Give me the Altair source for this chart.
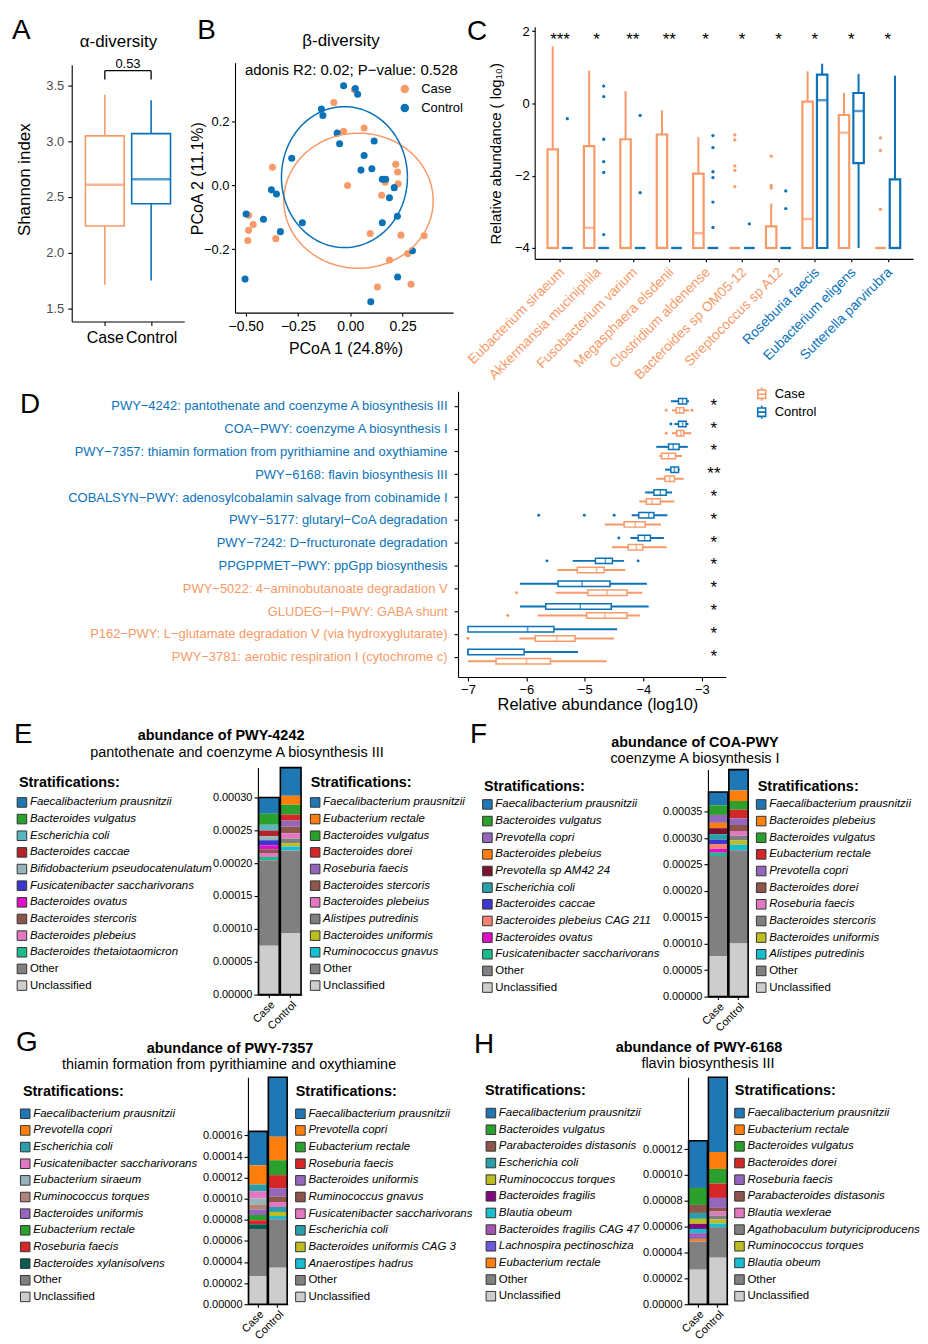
import json
import numpy as np
import pandas as pd
import altair as alt

FONT = "Liberation Sans"
ORANGE = "#F89A68"
BLUE = "#0B72B8"
GROUPS = ["Case", "Control"]
MINUS = "\u2212"

# ---------------- Panel A : alpha diversity ----------------
a_lower = [1.71, 1.75]
a_q1 = [2.24, 2.44]
a_median = [2.61, 2.66]
a_q3 = [3.05, 3.07]
a_upper = [3.42, 3.37]
a_pvalue = "0.53"

# ---------------- Panel B : beta diversity ----------------
b_case_x = [-0.079, 0.02, -0.032, 0.066, -0.372, -0.013, 0.217, 0.226, 0.229, 0.166, 0.15, -0.486,
            -0.464, -0.486, -0.49, -0.356, 0.095, 0.242, 0.353, 0.274, 0.187, 0.13, 0.29]
b_case_y = [0.26, 0.30, 0.17, 0.18, 0.057, 0.0, 0.066, 0.042, 0.005, 0.01, -0.031, -0.094,
            -0.123, -0.141, -0.173, -0.167, -0.151, -0.156, -0.158, -0.214, -0.234, -0.319, -0.31]
b_ctrl_x = [-0.032, 0.024, 0.035, -0.138, -0.131, -0.063, -0.051, 0.114, 0.066, -0.28, 0.051, 0.103,
            0.153, 0.169, 0.21, 0.187, -0.377, -0.353, -0.498, -0.415, -0.229, -0.334, 0.153, 0.225,
            0.297, -0.503, 0.226, 0.098]
b_ctrl_y = [0.3125, 0.304, 0.286, 0.24, 0.219, 0.164, 0.131, 0.139, 0.094, 0.085, 0.048, 0.052,
            0.019, 0.019, -0.007, -0.039, -0.014, -0.027, -0.09, -0.106, -0.117, -0.145, -0.117, -0.097,
            -0.205, -0.294, -0.2875, -0.365]
b_ellipse_case = [0.039, -0.048, 0.357, 0.212]   # centre x, centre y, radius x, radius y
b_ellipse_ctrl = [-0.028, 0.026, 0.301, 0.221]
b_note = "adonis R2: 0.02; P" + MINUS + "value: 0.528"

# ---------------- Panel C : species ----------------
c_taxa = ["Eubacterium siraeum", "Akkermansia muciniphila", "Fusobacterium varium", "Megasphaera elsdenii",
          "Clostridium aldenense", "Bacteroides sp OM05-12", "Streptococcus sp A12", "Roseburia faecis",
          "Eubacterium eligens", "Sutterella parvirubra"]
c_case_lo = [-4, -4, -4, -4, -4, -4, -4, -4, -4, -4]
c_case_q1 = [-4, -4, -4, -4, -4, -4, -4, -4, -4, -4]
c_case_med = [-4, -3.44, -4, -4, -3.59, -4, -4, -3.2, -0.81, -4]
c_case_q3 = [-1.27, -1.18, -0.99, -0.86, -1.94, -4, -3.4, 0.05, -0.32, -4]
c_case_hi = [1.58, 0.91, 0.34, -0.19, -0.93, -4, -2.77, 0.89, 0.29, -4]
c_ctrl_lo = [-4, -4, -4, -4, -4, -4, -4, -4, -4, -4]
c_ctrl_q1 = [-4, -4, -4, -4, -4, -4, -4, -4, -1.65, -4]
c_ctrl_med = [-4, -4, -4, -4, -4, -4, -4, 0.09, -0.21, -4]
c_ctrl_q3 = [-4, -4, -4, -4, -4, -4, -4, 0.80, 0.29, -2.10]
c_ctrl_hi = [-4, -4, -4, -4, -4, -4, -4, 1.10, 0.82, 0.77]
c_case_out_idx = [5, 5, 5, 5, 5, 6, 6, 6, 9, 9, 9]
c_case_out_val = [-0.87, -1.01, -1.73, -1.85, -2.30, -1.46, -2.27, -2.34, -0.95, -1.30, -2.93]
c_ctrl_out_idx = [0, 1, 1, 1, 1, 1, 1, 2, 2, 4, 4, 4, 4, 4, 4, 5, 6, 6]
c_ctrl_out_val = [-0.42, 0.48, 0.19, -0.99, -1.61, -1.91, -3.63, -0.33, -2.47, -0.89, -1.22, -1.89,
                  -2.05, -2.73, -3.43, -3.33, -2.42, -2.91]
c_stars = ["***", "*", "**", "**", "*", "*", "*", "*", "*", "*"]
c_case_enriched = 7

# ---------------- Panel D : pathways ----------------
d_paths = ["PWY−4242: pantothenate and coenzyme A biosynthesis III",
           "COA−PWY: coenzyme A biosynthesis I",
           "PWY−7357: thiamin formation from pyrithiamine and oxythiamine",
           "PWY−6168: flavin biosynthesis III",
           "COBALSYN−PWY: adenosylcobalamin salvage from cobinamide I",
           "PWY−5177: glutaryl−CoA degradation",
           "PWY−7242: D−fructuronate degradation",
           "PPGPPMET−PWY: ppGpp biosynthesis",
           "PWY−5022: 4−aminobutanoate degradation V",
           "GLUDEG−I−PWY: GABA shunt",
           "P162−PWY: L−glutamate degradation V (via hydroxyglutarate)",
           "PWY−3781: aerobic respiration I (cytochrome c)"]
d_ctrl_lo = [-3.53, -3.47, -3.78, -3.63, -3.97, -4.20, -4.22, -5.21, -6.11, -6.11, -7.00, -7.00]
d_ctrl_q1 = [-3.40, -3.40, -3.57, -3.53, -3.82, -4.08, -4.09, -4.82, -5.46, -5.67, -7.00, -7.00]
d_ctrl_med = [-3.33, -3.33, -3.49, -3.47, -3.71, -3.91, -3.98, -4.65, -5.05, -5.08, -5.98, -7.00]
d_ctrl_q3 = [-3.26, -3.27, -3.39, -3.40, -3.61, -3.82, -3.88, -4.53, -4.57, -4.55, -5.53, -6.04]
d_ctrl_hi = [-3.22, -3.23, -3.24, -3.38, -3.51, -3.59, -3.65, -4.33, -3.94, -3.91, -4.45, -5.12]
d_case_lo = [-3.51, -3.51, -3.73, -3.78, -4.07, -4.66, -4.54, -5.47, -5.50, -5.81, -6.12, -7.00]
d_case_q1 = [-3.44, -3.43, -3.69, -3.63, -3.95, -4.33, -4.26, -5.13, -4.95, -4.97, -5.85, -6.52]
d_case_med = [-3.38, -3.36, -3.57, -3.55, -3.85, -4.14, -4.12, -4.80, -4.62, -4.66, -5.48, -6.00]
d_case_q3 = [-3.31, -3.31, -3.45, -3.47, -3.71, -3.97, -4.01, -4.67, -4.28, -4.28, -5.17, -5.59]
d_case_hi = [-3.22, -3.18, -3.34, -3.31, -3.47, -3.70, -3.60, -4.31, -4.02, -4.06, -4.50, -4.63]
d_ctrl_out_row = [1, 5, 5, 5, 6, 7, 7]
d_ctrl_out_val = [-3.53, -5.79, -5.01, -4.50, -4.42, -5.65, -4.09]
d_case_out_row = [0, 0, 1, 8, 9, 10]
d_case_out_val = [-3.61, -3.17, -3.61, -6.17, -6.32, -7.00]
d_stars = ["*", "*", "*", "**", "*", "*", "*", "*", "*", "*", "*", "*"]
d_ctrl_enriched = 8

# ---------------- Panels E-H : stratified abundances (x 1e-6) ----------------
e_case_taxa = ["Faecalibacterium prausnitzii", "Bacteroides vulgatus", "Escherichia coli", "Bacteroides caccae",
               "Bifidobacterium pseudocatenulatum", "Fusicatenibacter saccharivorans", "Bacteroides ovatus",
               "Bacteroides stercoris", "Bacteroides plebeius", "Bacteroides thetaiotaomicron"]
e_case_vals = [24.7, 16.6, 9.1, 8.6, 6.0, 7.6, 6.0, 6.0, 6.0, 5.0, 130.0, 74.1]
e_ctrl_taxa = ["Faecalibacterium prausnitzii", "Eubacterium rectale", "Bacteroides vulgatus", "Bacteroides dorei",
               "Roseburia faecis", "Bacteroides stercoris", "Bacteroides plebeius", "Alistipes putredinis",
               "Bacteroides uniformis", "Ruminococcus gnavus"]
e_ctrl_vals = [42.8, 13.6, 15.1, 9.1, 9.1, 10.0, 8.1, 7.1, 5.0, 6.0, 125.5, 93.7]

f_case_taxa = ["Faecalibacterium prausnitzii", "Bacteroides vulgatus", "Prevotella copri", "Bacteroides plebeius",
               "Prevotella sp AM42 24", "Escherichia coli", "Bacteroides caccae", "Bacteroides plebeius CAG 211",
               "Bacteroides ovatus", "Fusicatenibacter saccharivorans"]
f_case_vals = [25.1, 18.2, 15.0, 10.0, 11.3, 10.7, 8.2, 8.8, 7.5, 6.3, 189.4, 76.5]
f_ctrl_taxa = ["Faecalibacterium prausnitzii", "Bacteroides plebeius", "Bacteroides vulgatus", "Eubacterium rectale",
               "Prevotella copri", "Bacteroides dorei", "Roseburia faecis", "Bacteroides stercoris",
               "Bacteroides uniformis", "Alistipes putredinis"]
f_ctrl_vals = [39.5, 20.1, 16.3, 16.3, 12.5, 11.3, 9.4, 8.8, 8.2, 10.0, 176.8, 100.3]

g_case_taxa = ["Faecalibacterium prausnitzii", "Prevotella copri", "Escherichia coli",
               "Fusicatenibacter saccharivorans", "Eubacterium siraeum", "Ruminococcus torques",
               "Bacteroides uniformis", "Eubacterium rectale", "Roseburia faecis", "Bacteroides xylanisolvens"]
g_case_vals = [32.1, 18.2, 6.3, 6.9, 5.7, 5.0, 5.0, 5.0, 3.8, 4.4, 44.6, 26.7]
g_ctrl_taxa = ["Faecalibacterium prausnitzii", "Prevotella copri", "Eubacterium rectale", "Roseburia faecis",
               "Bacteroides uniformis", "Ruminococcus gnavus", "Fusicatenibacter saccharivorans",
               "Escherichia coli", "Bacteroides uniformis CAG 3", "Anaerostipes hadrus"]
g_ctrl_vals = [56.3, 22.3, 14.1, 12.3, 7.9, 5.3, 4.7, 4.7, 3.8, 3.1, 45.9, 34.6]

h_case_taxa = ["Faecalibacterium prausnitzii", "Bacteroides vulgatus", "Parabacteroides distasonis",
               "Escherichia coli", "Ruminococcus torques", "Bacteroides fragilis", "Blautia obeum",
               "Bacteroides fragilis CAG 47", "Lachnospira pectinoschiza", "Eubacterium rectale"]
h_case_vals = [36.5, 13.1, 6.2, 4.6, 3.9, 3.9, 3.3, 2.8, 1.5, 2.1, 21.8, 26.7]
h_ctrl_taxa = ["Faecalibacterium prausnitzii", "Eubacterium rectale", "Bacteroides vulgatus", "Bacteroides dorei",
               "Roseburia faecis", "Parabacteroides distasonis", "Blautia wexlerae",
               "Agathobaculum butyriciproducens", "Ruminococcus torques", "Blautia obeum"]
h_ctrl_vals = [57.8, 13.1, 11.3, 11.1, 7.7, 2.8, 3.1, 3.1, 3.1, 2.8, 23.6, 36.0]

REST = ["Other", "Unclassified"]

# colour of each stratum, per panel
pal_e = {"Faecalibacterium prausnitzii": "#1F77B4", "Bacteroides vulgatus": "#2CA02C", "Escherichia coli": "#5BB5C0",
         "Bacteroides caccae": "#B2252D", "Bifidobacterium pseudocatenulatum": "#96B4BA",
         "Fusicatenibacter saccharivorans": "#3F36D0", "Bacteroides ovatus": "#E010C8",
         "Bacteroides stercoris": "#8C564B", "Bacteroides plebeius": "#E377C2",
         "Bacteroides thetaiotaomicron": "#1ABC8C", "Eubacterium rectale": "#FF7F0E", "Bacteroides dorei": "#D62728",
         "Roseburia faecis": "#9467BD", "Alistipes putredinis": "#7F7F7F", "Bacteroides uniformis": "#BCBD22",
         "Ruminococcus gnavus": "#17BECF", "Other": "#808080", "Unclassified": "#CDCDCD"}
pal_f = {"Faecalibacterium prausnitzii": "#1F77B4", "Bacteroides vulgatus": "#2CA02C", "Prevotella copri": "#9467BD",
         "Bacteroides plebeius": "#FF7F0E", "Prevotella sp AM42 24": "#7B1330", "Escherichia coli": "#2A9FAA",
         "Bacteroides caccae": "#3F36D0", "Bacteroides plebeius CAG 211": "#FA8072", "Bacteroides ovatus": "#E010C8",
         "Fusicatenibacter saccharivorans": "#1ABC8C", "Eubacterium rectale": "#D62728", "Bacteroides dorei": "#8C564B",
         "Roseburia faecis": "#E377C2", "Bacteroides stercoris": "#7F7F7F", "Bacteroides uniformis": "#BCBD22",
         "Alistipes putredinis": "#17BECF", "Other": "#808080", "Unclassified": "#CDCDCD"}
pal_g = {"Faecalibacterium prausnitzii": "#1F77B4", "Prevotella copri": "#FF7F0E", "Escherichia coli": "#2A9FAA",
         "Fusicatenibacter saccharivorans": "#E377C2", "Eubacterium siraeum": "#96B4BA",
         "Ruminococcus torques": "#B08478", "Bacteroides uniformis": "#9467BD", "Eubacterium rectale": "#2CA02C",
         "Roseburia faecis": "#D62728", "Bacteroides xylanisolvens": "#0B5A55", "Ruminococcus gnavus": "#8C564B",
         "Bacteroides uniformis CAG 3": "#BCBD22", "Anaerostipes hadrus": "#17BECF", "Other": "#808080",
         "Unclassified": "#CDCDCD"}
pal_h = {"Faecalibacterium prausnitzii": "#1F77B4", "Bacteroides vulgatus": "#2CA02C",
         "Parabacteroides distasonis": "#8C564B", "Escherichia coli": "#2A9FAA", "Ruminococcus torques": "#BCBD22",
         "Bacteroides fragilis": "#800A7E", "Blautia obeum": "#17BECF", "Bacteroides fragilis CAG 47": "#A855B0",
         "Lachnospira pectinoschiza": "#6A5ADF", "Eubacterium rectale": "#FF7F0E", "Bacteroides dorei": "#D62728",
         "Roseburia faecis": "#9467BD", "Blautia wexlerae": "#E377C2", "Agathobaculum butyriciproducens": "#7F7F7F",
         "Other": "#808080", "Unclassified": "#CDCDCD"}


# ---------------- helpers ----------------
def one():
    return pd.DataFrame({"k": [0]})


def note(text, x, y, size=13, weight="normal", align="center", color="black", italic=False):
    mk = dict(fontSize=size, fontWeight=weight, align=align, baseline="middle", color=color, font=FONT)
    if italic:
        mk["fontStyle"] = "italic"
    return alt.Chart(one()).mark_text(**mk).encode(x=alt.value(x), y=alt.value(y), text=alt.value(text))


def spacer(w, h=1, top=0):
    return (alt.Chart(one()).mark_rule(opacity=0, strokeWidth=1)
            .encode(x=alt.value(0), y=alt.value(top), y2=alt.value(top))
            .properties(width=w, height=h))


def ax(**kw):
    base = dict(grid=False, domainColor="black", tickColor="black", labelColor="black", titleColor="black",
                labelFont=FONT, titleFont=FONT, titleFontWeight="normal", labelFlush=False, domainWidth=1.1,
                tickWidth=1.1, tickSize=4, labelPadding=3, labelOverlap=False, tickCount=60)
    base.update(kw)
    return alt.Axis(**base)


def names_expr(names):
    return json.dumps(names, ensure_ascii=False) + "[round(datum.value)]"


gscale = alt.Scale(domain=GROUPS, range=[ORANGE, BLUE])


def gcolor(legend=None):
    return alt.Color("g:N", scale=gscale, legend=legend)


# ---------------- Panel A ----------------
dfA = pd.DataFrame({"g": GROUPS, "pos": [0, 1], "lo": a_lower, "q1": a_q1, "med": a_median,
                    "q3": a_q3, "hi": a_upper})
xA = alt.X("pos:Q", scale=alt.Scale(domain=[-0.608, 1.608], range=[0, 113], nice=False, zero=False),
           axis=ax(values=[0, 1], labelExpr=names_expr(GROUPS), title=None, labelFontSize=16, labelPadding=4))
yA = alt.Y("lo:Q", scale=alt.Scale(domain=[1.38, 3.69], range=[296, 38], nice=False, zero=False),
           axis=ax(values=[1.5, 2.0, 2.5, 3.0, 3.5], format=".1f", labelFontSize=13, labelColor="#4D4D4D",
                   labelPadding=4, title="Shannon index", titleFontSize=17, titleAngle=270, titleX=-47,
                   titleY=153, titleBaseline="middle", titleAlign="center"))
baseA = alt.Chart(dfA)
a_whisk = baseA.mark_rule(strokeWidth=1.6).encode(x=xA, y=yA, y2="hi:Q", color=gcolor())
a_box = baseA.mark_bar(size=39, fill="white", strokeWidth=1.6).encode(
    x="pos:Q", y="q1:Q", y2="q3:Q", stroke=alt.Stroke("g:N", scale=gscale, legend=None))
a_med = baseA.mark_tick(orient="horizontal", size=39, thickness=2.6).encode(x="pos:Q", y="med:Q", color=gcolor())
dfBr = pd.DataFrame({"x0": [0, 0, 1], "x1": [1, 0, 1], "y0": [3.636, 3.556, 3.556], "y1": [3.636, 3.636, 3.636]})
a_br = alt.Chart(dfBr).mark_rule(color="black", strokeWidth=1.3).encode(x="x0:Q", x2="x1:Q", y="y0:Q", y2="y1:Q")
panelA = alt.layer(a_whisk, a_box, a_med, a_br,
                   note(a_pvalue, 56.5, 37, 13),
                   note("α-diversity", 47, 15, 17),
                   note("A", -60, 4, 28, align="left"))

# ---------------- Panel B ----------------
dfBp = pd.DataFrame({"g": ["Case"] * len(b_case_x) + ["Control"] * len(b_ctrl_x),
                     "x": b_case_x + b_ctrl_x, "y": b_case_y + b_ctrl_y})
tt = np.linspace(0, 2 * np.pi, 121)
ell_rows = []
for g, (cx, cy, rx, ry) in zip(GROUPS, [b_ellipse_case, b_ellipse_ctrl]):
    for j, t in enumerate(tt):
        ell_rows.append({"g": g, "o": j, "x": cx + rx * np.cos(t), "y": cy + ry * np.sin(t)})
dfBe = pd.DataFrame(ell_rows)
xB = alt.X("x:Q", scale=alt.Scale(domain=[-0.551, 0.491], range=[0, 219], nice=False, zero=False),
           axis=ax(values=[-0.5, -0.25, 0, 0.25], format=".2f", labelFontSize=14, tickSize=3.5, labelPadding=3,
                   title="PCoA 1 (24.8%)", titleFontSize=16, titleX=111, titleY=36, titleBaseline="middle"))
yB = alt.Y("y:Q", scale=alt.Scale(domain=[-0.399, 0.385], range=[287, 36], nice=False, zero=False),
           axis=ax(values=[-0.2, 0, 0.2], format=".1f", labelFontSize=13, tickSize=3.5, labelPadding=2.5,
                   title="PCoA 2 (11.1%)", titleFontSize=16, titleAngle=270, titleX=-38, titleY=152,
                   titleBaseline="middle"))
b_pts = alt.Chart(dfBp).mark_circle(size=50, opacity=1).encode(
    x=xB, y=yB,
    color=gcolor(alt.Legend(orient="none", legendX=164, legendY=56, title=None, labelFontSize=13,
                            symbolSize=50, symbolType="circle", labelOffset=10, rowPadding=4, padding=0)))
b_ell = alt.Chart(dfBe).mark_line(strokeWidth=1.5).encode(x="x:Q", y="y:Q", order="o:Q", detail="g:N",
                                                          color=gcolor())
panelB = alt.layer(b_pts, b_ell,
                   note(b_note, 10, 43, 15, align="left"),
                   note("β-diversity", 106.5, 14, 17),
                   note("B", -38, 4, 28, align="left"))

# ---------------- Panel C ----------------
rowsC = []
for i in range(len(c_taxa)):
    rowsC.append({"g": "Case", "pos": i - 0.2, "lo": c_case_lo[i], "q1": c_case_q1[i], "med": c_case_med[i],
                  "q3": c_case_q3[i], "hi": c_case_hi[i]})
    rowsC.append({"g": "Control", "pos": i + 0.2, "lo": c_ctrl_lo[i], "q1": c_ctrl_q1[i], "med": c_ctrl_med[i],
                  "q3": c_ctrl_q3[i], "hi": c_ctrl_hi[i]})
dfC = pd.DataFrame(rowsC)
dfCo = pd.DataFrame({"g": ["Case"] * len(c_case_out_idx) + ["Control"] * len(c_ctrl_out_idx),
                     "pos": [i - 0.2 for i in c_case_out_idx] + [i + 0.2 for i in c_ctrl_out_idx],
                     "v": c_case_out_val + c_ctrl_out_val})
dfCs = pd.DataFrame({"pos": list(range(len(c_taxa))), "s": c_stars})
xC = alt.X("pos:Q", scale=alt.Scale(domain=[-0.559, 9.559], range=[0, 380], nice=False, zero=False),
           axis=ax(values=list(range(len(c_taxa))), labelExpr=names_expr(c_taxa), labelAngle=-45,
                   labelAlign="right", labelBaseline="top", labelFontSize=13.8, labelLimit=400, labelPadding=3,
                   labelOffset=-3, tickSize=3, title=None,
                   labelColor={"condition": {"test": "datum.value < %d" % c_case_enriched, "value": ORANGE},
                               "value": BLUE}))
yC = alt.Y("lo:Q", scale=alt.Scale(domain=[-4.30, 2.12], range=[233, 0], nice=False, zero=False),
           axis=ax(values=[-4, -2, 0, 2], format="d", labelFontSize=13, tickSize=3, labelPadding=2.5,
                   title="Relative abundance ( log₁₀)", titleFontSize=15, titleAngle=270, titleX=-39, titleY=127,
                   titleBaseline="middle"))
baseC = alt.Chart(dfC)
c_whisk = baseC.mark_rule(strokeWidth=2).encode(x=xC, y=yC, y2="hi:Q", color=gcolor())
c_box = baseC.mark_bar(size=10.5, fill="white", strokeWidth=2.2).encode(
    x="pos:Q", y="q1:Q", y2="q3:Q", stroke=alt.Stroke("g:N", scale=gscale, legend=None))
c_med = baseC.mark_tick(orient="horizontal", size=10.5, thickness=2.4).encode(x="pos:Q", y="med:Q", color=gcolor())
c_out = alt.Chart(dfCo).mark_circle(size=11, opacity=1).encode(x="pos:Q", y="v:Q", color=gcolor())
c_st = alt.Chart(dfCs).mark_text(fontSize=17, baseline="middle", color="black").encode(
    x="pos:Q", y=alt.value(13), text="s:N")
panelC = alt.layer(c_whisk, c_box, c_med, c_out, c_st,
                   note("C", -68, 5, 28, align="left"))

# ---------------- Panel D ----------------
rowsD = []
for i in range(len(d_paths)):
    rowsD.append({"g": "Control", "pos": i - 0.2, "lo": d_ctrl_lo[i], "q1": d_ctrl_q1[i], "med": d_ctrl_med[i],
                  "q3": d_ctrl_q3[i], "hi": d_ctrl_hi[i]})
    rowsD.append({"g": "Case", "pos": i + 0.2, "lo": d_case_lo[i], "q1": d_case_q1[i], "med": d_case_med[i],
                  "q3": d_case_q3[i], "hi": d_case_hi[i]})
dfD = pd.DataFrame(rowsD)
dfDo = pd.DataFrame({"g": ["Control"] * len(d_ctrl_out_row) + ["Case"] * len(d_case_out_row),
                     "pos": [r - 0.2 for r in d_ctrl_out_row] + [r + 0.2 for r in d_case_out_row],
                     "v": d_ctrl_out_val + d_case_out_val})
dfDs = pd.DataFrame({"pos": list(range(len(d_paths))), "s": d_stars})
xD = alt.X("lo:Q", scale=alt.Scale(domain=[-7.17, -2.59], range=[0, 269], nice=False, zero=False),
           axis=ax(values=[-7, -6, -5, -4, -3], format="d", labelFontSize=13, labelPadding=3,
                   title="Relative abundance (log10)", titleFontSize=16.5, titleX=140, titleY=28,
                   titleBaseline="middle"))
yD = alt.Y("pos:Q", scale=alt.Scale(domain=[-0.42, 11.674], range=[70, 357], nice=False, zero=False),
           axis=ax(values=list(range(len(d_paths))), labelExpr=names_expr(d_paths), labelFontSize=13,
                   labelLimit=600, labelPadding=7, title=None,
                   labelColor={"condition": {"test": "datum.value < %d" % d_ctrl_enriched, "value": BLUE},
                               "value": ORANGE}))
baseD = alt.Chart(dfD)
d_whisk = baseD.mark_rule(strokeWidth=2).encode(x=xD, y=yD, x2="hi:Q", color=gcolor())
d_box = baseD.mark_bar(size=5.5, fill="white", strokeWidth=1.5).encode(
    x="q1:Q", x2="q3:Q", y="pos:Q", stroke=alt.Stroke("g:N", scale=gscale, legend=None))
d_med = baseD.mark_tick(orient="vertical", size=5.5, thickness=1.5).encode(x="med:Q", y="pos:Q", color=gcolor())
d_out = alt.Chart(dfDo).mark_circle(size=9, opacity=1).encode(x="v:Q", y="pos:Q", color=gcolor())
d_st = alt.Chart(dfDs).mark_text(fontSize=17, baseline="middle", color="black").encode(
    x=alt.value(257), y="pos:Q", text="s:N")

# legend of panel D: one boxplot glyph per group
BOXGLYPH = "M0,-0.95L0,-0.6M0,0.6L0,0.95M-0.57,-0.6L0.57,-0.6L0.57,0.6L-0.57,0.6ZM-0.57,0L0.57,0"
dfDl = pd.DataFrame({"g": GROUPS, "i": list(range(len(GROUPS)))})
yDl = alt.Y("i:Q", scale=alt.Scale(domain=[0, 1], range=[73, 91], nice=False, zero=False), axis=None)
d_lsym = alt.Chart(dfDl).mark_point(shape=BOXGLYPH, size=196, filled=True, fill="white", strokeWidth=1.6,
                                    opacity=1).encode(
    x=alt.value(305), y=yDl, stroke=alt.Stroke("g:N", scale=gscale, legend=None))
d_ltxt = alt.Chart(dfDl).mark_text(align="left", baseline="middle", fontSize=13, color="black").encode(
    x=alt.value(318), y="i:Q", text="g:N")

panelD = alt.layer(alt.layer(d_whisk, d_box, d_med, d_out, d_st),
                   alt.layer(d_lsym, d_ltxt),
                   note("D", -440, 84, 28, align="left")).resolve_scale(y="independent")


# ---------------- Panels E-H ----------------
def strat_panel(letter, title, subtitle, case_taxa, case_vals, ctrl_taxa, ctrl_vals, pal, yticks, W, H, geo):
    rows = []
    for g, taxa, vals in [("Case", case_taxa, case_vals), ("Control", ctrl_taxa, ctrl_vals)]:
        full = taxa + REST
        n = len(full)
        for j, (tx, v) in enumerate(zip(full, vals)):
            rows.append({"g": g, "taxon": tx, "v": v * 1e-6, "k": n - 1 - j})
    df = pd.DataFrame(rows)
    dom = []
    for tx in case_taxa + ctrl_taxa + REST:
        if tx not in dom:
            dom.append(tx)
    cscale = alt.Scale(domain=dom, range=[pal[t] for t in dom])

    xb = alt.X("g:N", scale=alt.Scale(domain=GROUPS, range=[0, W], paddingInner=0.05, paddingOuter=0.03),
               axis=ax(title=None, labelAngle=-45, labelAlign="right", labelBaseline="top", labelFontSize=11,
                       labelPadding=1, tickSize=3))
    yb = alt.Y("v:Q", stack="zero", scale=alt.Scale(range=[H, H - 228], nice=False, zero=True),
               axis=ax(values=yticks, format=".5f", labelFontSize=11, title=None, tickSize=4, labelPadding=2))
    bars = alt.Chart(df).mark_bar().encode(x=xb, y=yb, color=alt.Color("taxon:N", scale=cscale, legend=None),
                                           order=alt.Order("k:Q", sort="ascending"))
    outline = (alt.Chart(df).transform_aggregate(total="sum(v)", groupby=["g"])
               .mark_bar(fillOpacity=0, stroke="black", strokeWidth=1.6).encode(x="g:N", y="total:Q"))

    lrows = []
    for side, taxa in [("L", case_taxa), ("R", ctrl_taxa)]:
        for j, tx in enumerate(taxa + REST):
            lrows.append({"side": side, "taxon": tx, "i": j, "it": tx not in REST})
    dfl = pd.DataFrame(lrows)
    xl = alt.X("side:N", scale=alt.Scale(type="point", domain=["L", "R"], range=[geo["sqL"], geo["sqR"]],
                                         padding=0), axis=None)
    yl = alt.Y("i:Q", scale=alt.Scale(domain=[0, 11], range=[geo["row0"], geo["row0"] + 11 * 16.72],
                                      nice=False, zero=False), axis=None)
    lb = alt.Chart(dfl)
    lsq = lb.mark_square(size=92, stroke="#333333", strokeWidth=1, opacity=1).encode(
        x=xl, y=yl, color=alt.Color("taxon:N", scale=cscale, legend=None))
    lt1 = lb.transform_filter("datum.it").mark_text(align="left", baseline="middle", dx=8, fontSize=11.5,
                                                    fontStyle="italic").encode(x="side:N", y="i:Q", text="taxon:N")
    lt2 = lb.transform_filter("!datum.it").mark_text(align="left", baseline="middle", dx=8, fontSize=11.5).encode(
        x="side:N", y="i:Q", text="taxon:N")

    notes = [note(letter, geo["letter"][0], geo["letter"][1], 28, align="left"),
             note(title, geo["title"][0], geo["title"][1], 14.5, weight="bold"),
             note(subtitle, geo["sub"][0], geo["sub"][1], 14.5),
             note("Stratifications:", geo["headL"][0], geo["headL"][1], 14.5, weight="bold", align="left"),
             note("Stratifications:", geo["headR"][0], geo["headR"][1], 14.5, weight="bold", align="left")]
    return (alt.layer(alt.layer(bars, outline), alt.layer(lsq, lt1, lt2), *notes)
            .resolve_scale(x="independent", y="independent"))


panelE = strat_panel("E", "abundance of PWY-4242", "pantothenate and coenzyme A biosynthesis III",
                     e_case_taxa, e_case_vals, e_ctrl_taxa, e_ctrl_vals, pal_e,
                     [0, 0.00005, 0.0001, 0.00015, 0.0002, 0.00025, 0.0003], 44, 319,
                     dict(letter=(-245, 58), title=(-37, 59), sub=(-21, 76), headL=(-240, 106), headR=(53, 106),
                          sqL=-237, sqR=57.5, row0=126))
panelF = strat_panel("F", "abundance of COA-PWY", "coenzyme A biosynthesis I",
                     f_case_taxa, f_case_vals, f_ctrl_taxa, f_ctrl_vals, pal_f,
                     [0, 0.00005, 0.0001, 0.00015, 0.0002, 0.00025, 0.0003, 0.00035], 41, 321,
                     dict(letter=(-239, 58), title=(-13, 66), sub=(-13, 82), headL=(-225, 111), headR=(50, 111),
                          sqL=-221.5, sqR=53.5, row0=128))
panelG = strat_panel("G", "abundance of PWY-7357", "thiamin formation from pyrithiamine and oxythiamine",
                     g_case_taxa, g_case_vals, g_ctrl_taxa, g_ctrl_vals, pal_g,
                     [0, 0.00002, 0.00004, 0.00006, 0.00008, 0.0001, 0.00012, 0.00014, 0.00016], 40, 309,
                     dict(letter=(-233, 47), title=(-18, 53), sub=(-19, 69), headL=(-226, 96), headR=(48, 96),
                          sqL=-223.7, sqR=52.7, row0=117.7))
panelH = strat_panel("H", "abundance of PWY-6168", "flavin biosynthesis III",
                     h_case_taxa, h_case_vals, h_ctrl_taxa, h_ctrl_vals, pal_h,
                     [0, 0.00002, 0.00004, 0.00006, 0.00008, 0.0001, 0.00012], 40, 309,
                     dict(letter=(-215, 49), title=(11, 52), sub=(20, 68), headL=(-204, 95), headR=(47, 95),
                          sqL=-198, sqR=51.7, row0=117))

# ---------------- grid layout (column starts: 0, 64, 228, 241, 251, 452, 529, 683, 703) ----------------
colw = [64, 164, 13, 10, 201, 77, 154, 20, 1]
layout_rows = [
    ({1: (panelA, 296), 2: (panelB, 287), 6: (panelC, 233)}, True),
    ({5: (panelD, 357)}, False),
    ({4: (panelE, 319), 8: (panelF, 321)}, False),
    ({3: (panelG, 309), 7: (panelH, 309)}, False),
]
cells = []
for content, first in layout_rows:
    for c, w in enumerate(colw):
        if c in content:
            p, h = content[c]
            cells.append(p.properties(width=w, height=h))
        else:
            cells.append(spacer(w, 1, -16 if (first and c == 0) else 0))

chart = (alt.concat(*cells, columns=len(colw), spacing=0, bounds="flush", align="each")
         .resolve_scale(x="independent", y="independent", color="independent", stroke="independent")
         .properties(padding=0)
         .configure(font=FONT)
         .configure_view(stroke=None)
         .configure_legend(labelFont=FONT))

chart.save("out.html", embed_options={"renderer": "svg", "actions": False})
